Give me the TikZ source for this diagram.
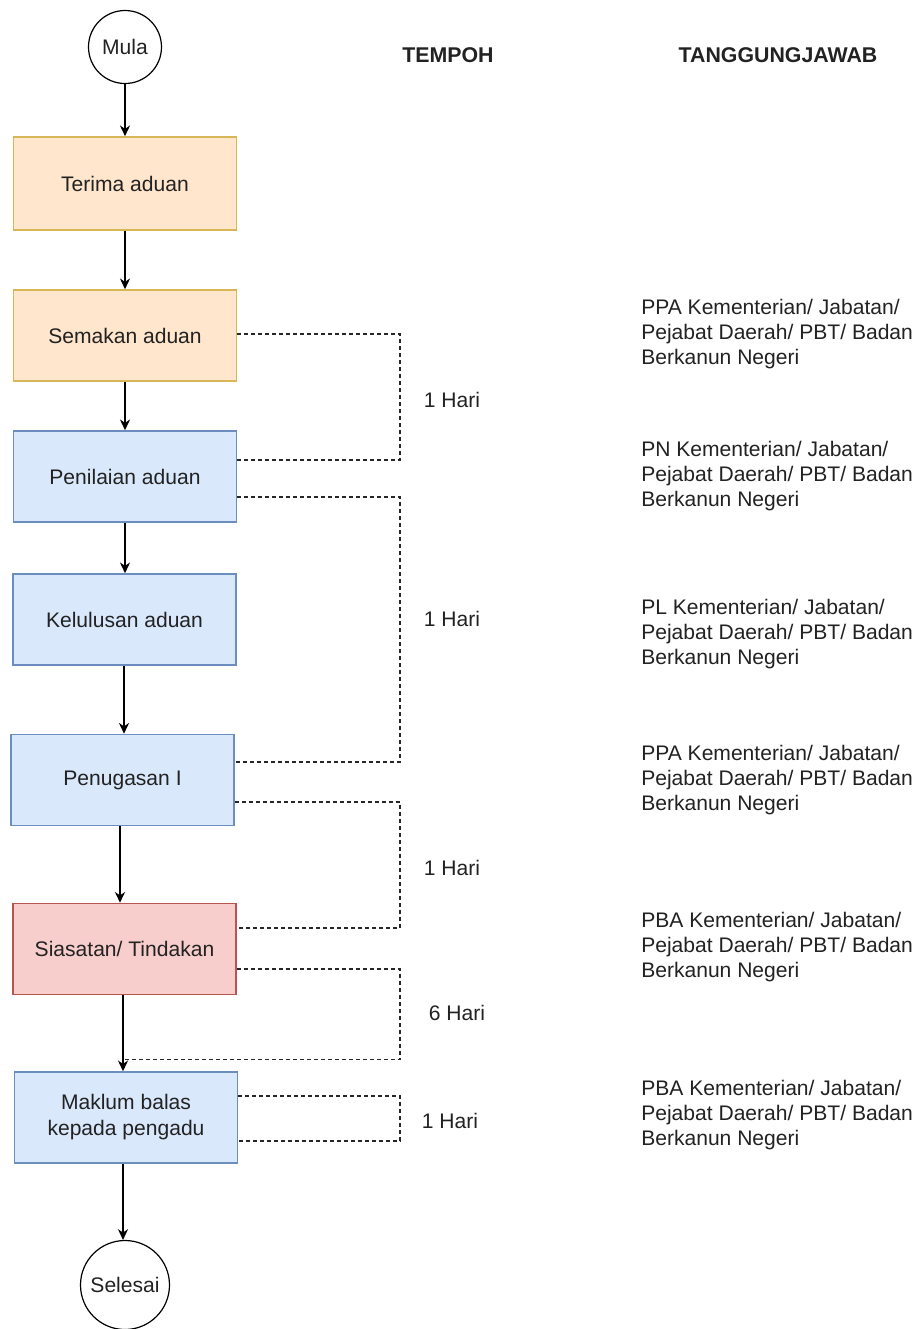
\documentclass[tikz,border=0pt]{standalone}
\usepackage{fontspec}
\setmainfont{Liberation Sans}
\usetikzlibrary{calc,arrows.meta}
\definecolor{orangeFill}{HTML}{FFE6CC}
\definecolor{orangeLine}{HTML}{D6B656}
\definecolor{blueFill}{HTML}{DAE8FC}
\definecolor{blueLine}{HTML}{6C8EBF}
\definecolor{redFill}{HTML}{F8CECC}
\definecolor{redLine}{HTML}{B85450}
\definecolor{ink}{HTML}{222222}
\begin{document}
\begin{tikzpicture}[x=0.75pt,y=-0.75pt,
  font=\fontsize{15.8}{19.5}\selectfont,
  every node/.style={text=ink},
  stepbox/.style={draw,line width=1.2pt,minimum width=167pt,minimum height=68.25pt,inner sep=0pt,align=center},
  orangebox/.style={stepbox,fill=orangeFill,draw=orangeLine},
  bluebox/.style={stepbox,fill=blueFill,draw=blueLine},
  redbox/.style={stepbox,fill=redFill,draw=redLine},
  terminal/.style={circle,draw,line width=0.9pt,inner sep=0pt},
  flow/.style={-{Stealth[length=8pt,width=7.5pt,inset=2.5pt]},line width=1.2pt,black},
  link/.style={dash pattern=on 3pt off 2.25pt,line width=0.9pt,black!85},
  header/.style={font=\fontsize{16}{19}\selectfont\bfseries},
  owner/.style={anchor=west,align=left,inner sep=0pt,font=\fontsize{15.8}{18.75}\selectfont}]
\useasboundingbox (0,0) rectangle (919,1329);

% process steps
\node[terminal,minimum size=54.75pt] (mula) at (125,47) {Mula};
\node[orangebox,minimum height=69.75pt] (terima) at (125,183.5) {Terima aduan};
\node[orangebox] (semakan) at (125,335.5) {Semakan aduan};
\node[bluebox] (penilaian) at (125,476.5) {Penilaian aduan};
\node[bluebox] (kelulusan) at (124.5,619.5) {Kelulusan aduan};
\node[bluebox] (penugasan) at (122.5,780) {Penugasan I};
\node[redbox] (siasatan) at (124.5,949) {Siasatan/ Tindakan};
\node[bluebox] (maklum) at (126,1117.5) {Maklum balas\\kepada pengadu};
\node[terminal,minimum size=66.75pt] (selesai) at (125,1285) {Selesai};

% vertical lanes of the lower arrows
\coordinate (lane1) at (124,0);
\coordinate (lane2) at (120,0);
\coordinate (lane3) at (123,0);

% main flow
\draw[flow] (mula) -- (terima);
\draw[flow] (terima) -- (semakan);
\draw[flow] (semakan) -- (penilaian);
\draw[flow] (penilaian.south) -- (penilaian.south |- kelulusan.north);
\draw[flow] (kelulusan.south -| lane1) -- (lane1 |- penugasan.north);
\draw[flow] (penugasan.south -| lane2) -- (lane2 |- siasatan.north);
\draw[flow] (siasatan.south -| lane3) -- (lane3 |- maklum.north);
\draw[flow] (maklum.south -| lane3) -- (lane3 |- selesai.north);

% ports of the duration brackets
\coordinate (rail) at (400,0);
\coordinate (s1) at ($(semakan.east)+(0,-1.5)$);
\coordinate (p1) at ($(penilaian.east)+(0,-16.5)$);
\coordinate (p2) at ($(penilaian.east)+(0,20.5)$);
\coordinate (g1) at ($(penugasan.east)+(0,-18)$);
\coordinate (g2) at ($(penugasan.east)+(0,22)$);
\coordinate (i1) at ($(siasatan.east)+(0,-21)$);
\coordinate (i2) at ($(siasatan.east)+(0,20)$);
\coordinate (join) at ($(siasatan.south -| lane3)+(0,64)$);
\coordinate (m1) at ($(maklum.east)+(0,-21.5)$);
\coordinate (m2) at ($(maklum.east)+(0,23.5)$);

% duration brackets
\draw[link] (s1) -- (s1 -| rail) |- (p1);
\draw[link] (p2) -- (p2 -| rail) |- (g1);
\draw[link] (g2) -- (g2 -| rail) |- (i1);
\draw[link] (i2) -- (i2 -| rail) |- (join);
\draw[link] (m1) -- (m1 -| rail) |- (m2);

% durations
\node[header] (hTempoh) at (448,55) {TEMPOH};
\node (t1) at (452,400) {1 Hari};
\node (t2) at (452,619) {1 Hari};
\node (t3) at (452,868) {1 Hari};
\node (t4) at (457,1013) {6 Hari};
\node (t5) at (450,1121) {1 Hari};

% responsibilities
\node[header] (hTang) at (778,55) {TANGGUNGJAWAB};
\node[owner] (r1) at (641,334) {PPA Kementerian/ Jabatan/\\Pejabat Daerah/ PBT/ Badan\\Berkanun Negeri};
\node[owner] (r2) at (641,476) {PN Kementerian/ Jabatan/\\Pejabat Daerah/ PBT/ Badan\\Berkanun Negeri};
\node[owner] (r3) at (641,634) {PL Kementerian/ Jabatan/\\Pejabat Daerah/ PBT/ Badan\\Berkanun Negeri};
\node[owner] (r4) at (641,780) {PPA Kementerian/ Jabatan/\\Pejabat Daerah/ PBT/ Badan\\Berkanun Negeri};
\node[owner] (r5) at (641,947) {PBA Kementerian/ Jabatan/\\Pejabat Daerah/ PBT/ Badan\\Berkanun Negeri};
\node[owner] (r6) at (641,1115) {PBA Kementerian/ Jabatan/\\Pejabat Daerah/ PBT/ Badan\\Berkanun Negeri};
\end{tikzpicture}
\end{document}
